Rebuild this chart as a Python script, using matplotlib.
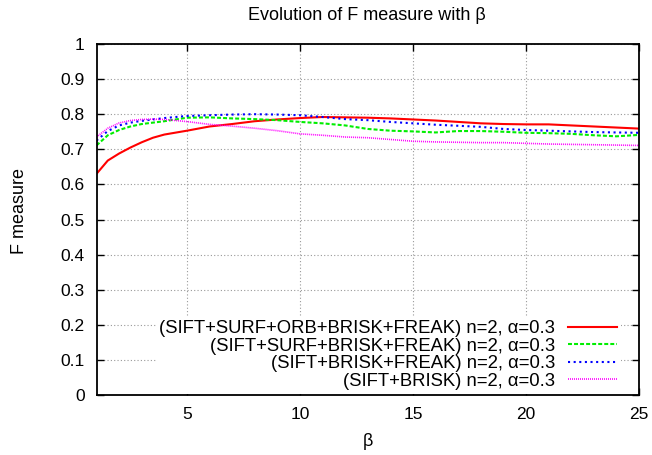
import numpy as np
import matplotlib
matplotlib.use("Agg")
import matplotlib.pyplot as plt

plt.rcParams["font.family"] = ["Liberation Sans", "DejaVu Sans"]

beta = [1, 1.5, 2, 2.5, 3, 3.5, 4, 5, 6, 7, 8, 9, 10, 11, 12, 13, 14, 15,
        16, 17, 18, 19, 20, 21, 22, 23, 24, 25]

f_all5 = [0.630, 0.668, 0.688, 0.705, 0.720, 0.733, 0.742, 0.753, 0.765,
          0.772, 0.780, 0.785, 0.789, 0.792, 0.791, 0.790, 0.788, 0.785,
          0.782, 0.778, 0.774, 0.772, 0.771, 0.771, 0.768, 0.765, 0.762, 0.759]
f_four = [0.711, 0.740, 0.755, 0.765, 0.772, 0.776, 0.780, 0.790, 0.791,
          0.788, 0.786, 0.783, 0.778, 0.774, 0.768, 0.758, 0.753, 0.751,
          0.748, 0.752, 0.752, 0.750, 0.747, 0.746, 0.744, 0.740, 0.737, 0.741]
f_three = [0.725, 0.752, 0.768, 0.776, 0.781, 0.785, 0.789, 0.795, 0.797,
           0.799, 0.800, 0.799, 0.797, 0.792, 0.786, 0.783, 0.778, 0.774,
           0.770, 0.767, 0.764, 0.758, 0.755, 0.753, 0.751, 0.749, 0.748, 0.747]
f_two = [0.735, 0.760, 0.775, 0.782, 0.785, 0.786, 0.785, 0.779, 0.771,
         0.766, 0.760, 0.753, 0.744, 0.740, 0.735, 0.733, 0.728, 0.723,
         0.721, 0.720, 0.719, 0.719, 0.717, 0.715, 0.714, 0.713, 0.712, 0.711]

labels = ["(SIFT+SURF+ORB+BRISK+FREAK) n=2, \u03b1=0.3",
          "(SIFT+SURF+BRISK+FREAK) n=2, \u03b1=0.3",
          "(SIFT+BRISK+FREAK) n=2, \u03b1=0.3",
          "(SIFT+BRISK) n=2, \u03b1=0.3"]

fig = plt.figure(figsize=(6.52, 4.55), dpi=100)
ax = fig.add_axes([96.5 / 652, 1 - 395 / 455, (639 - 96.5) / 652, (395 - 44) / 455])

ax.plot(beta, f_all5, color="#ff0000", lw=1.5, label=labels[0])
ax.plot(beta, f_four, color="#00ee00", lw=1.5, dashes=(1.9, 1.0), label=labels[1])
ax.plot(beta, f_three, color="#0000ff", lw=1.5, dashes=(1.0, 1.7), label=labels[2])
ax.plot(beta, f_two, color="#ff00ff", lw=1.2, dashes=(0.6, 0.6), label=labels[3])

ax.set_xlim(1, 25)
ax.set_ylim(0, 1)
ax.set_xticks([5, 10, 15, 20, 25])
ax.set_yticks(np.arange(0, 1.01, 0.1))
ax.set_yticklabels(["0", "0.1", "0.2", "0.3", "0.4", "0.5", "0.6", "0.7",
                    "0.8", "0.9", "1"])
ax.tick_params(direction="in", length=5, width=1, top=True, right=True,
               labelsize=12.5, pad=8.5)
for s in ax.spines.values():
    s.set_linewidth(1.3)
ax.grid(True, color="#999999", linestyle=(0, (1, 2)), linewidth=0.8)
ax.set_axisbelow(True)

ax.set_xlabel("\u03b2", fontsize=13, va="center")
ax.xaxis.set_label_coords(0.5, (395 - 442) / 351)
ax.set_ylabel("F measure", fontsize=13, va="center")
ax.yaxis.set_label_coords((19 - 96.5) / 542.5, (395 - 211) / 351)
fig.text(367 / 652, 1 - 15 / 455, "Evolution of F measure with \u03b2",
         ha="center", va="center", fontsize=13)

leg = ax.legend(loc="lower right", bbox_to_anchor=(0.967, 0.004),
                borderaxespad=0, markerfirst=False, fontsize=13.3, frameon=True,
                handlelength=2.7, handletextpad=0.66, labelspacing=0.03,
                borderpad=0.2, fancybox=False)
leg.get_frame().set_facecolor("white")
leg.get_frame().set_edgecolor("none")
leg.get_frame().set_alpha(1)

fig.savefig("out.png", dpi=100)
